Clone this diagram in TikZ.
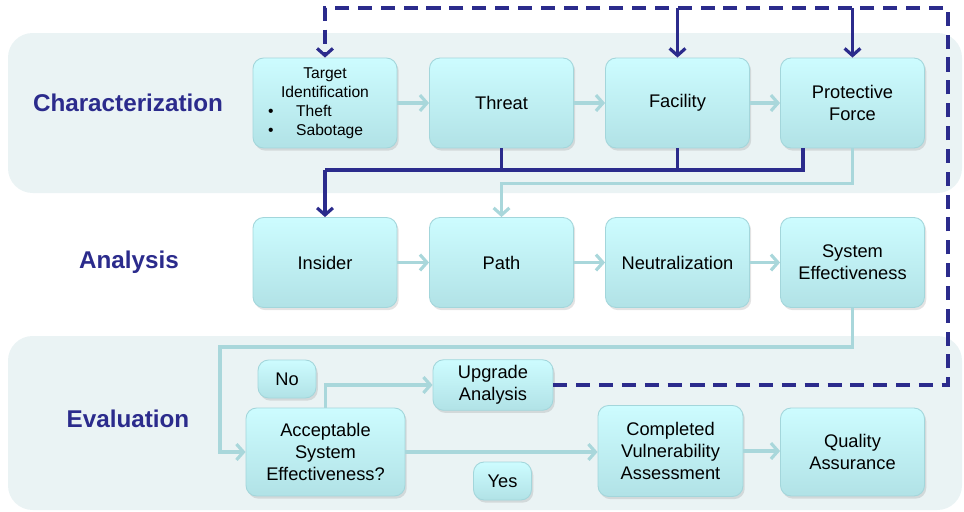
\documentclass[tikz,border=0pt]{standalone}
\usepackage{fontspec}
\setmainfont{Liberation Sans}
\usetikzlibrary{arrows.meta,shadows}

\definecolor{navy}{HTML}{2B2B8C}
\definecolor{pale}{HTML}{A9D7DB}
\definecolor{bandbg}{HTML}{EAF3F4}
\definecolor{boxtop}{HTML}{CDFCFF}
\definecolor{boxbot}{HTML}{B1E2E6}
\definecolor{boxedge}{HTML}{A3D6DB}

\tikzset{
  stage/.style={rectangle,rounded corners=6pt,draw=boxedge,line width=0.5pt,
    top color=boxtop,bottom color=boxbot,minimum width=2.88cm,minimum height=1.8cm,
    align=center,font=\fontsize{10.4}{12.4}\selectfont,
    drop shadow={opacity=0.22,shadow xshift=1pt,shadow yshift=-1.5pt}},
  tag/.style={stage,minimum width=1.16cm,minimum height=0.76cm},
  phase/.style={font=\bfseries\fontsize{13.8}{16}\selectfont,text=navy},
  flow/.style={draw=pale,line width=1.8pt,-{Straight Barb[length=4pt,width=9pt]}},
  feed/.style={draw=navy,line width=1.8pt},
  feedarrow/.style={feed,-{Straight Barb[length=4pt,width=9pt]}},
  loopback/.style={feedarrow,dash pattern=on 8pt off 5pt}
}

\begin{document}
\begin{tikzpicture}[line cap=butt,line join=miter,x=0.02cm,y=-0.02cm]
  \useasboundingbox (0,0) rectangle (964,511);

  % bands
  \fill[bandbg,rounded corners=14pt] (8,33) rectangle (962,193);
  \fill[bandbg,rounded corners=14pt] (8,336) rectangle (962,510);

  \node[phase] (charlbl) at (128,103) {Characterization};
  \node[phase] (analbl) at (129,262) {Analysis};
  \node[phase] (evallbl) at (128,419) {Evaluation};

  % characterization
  \node[stage,font=\fontsize{8.9}{10.9}\selectfont] (tgt) at (325,103)
    {Target\\Identification\\
     \makebox[2.6cm][l]{\hspace{0.16cm}\textbullet\hspace{1.45em}Theft}\\
     \makebox[2.6cm][l]{\hspace{0.16cm}\textbullet\hspace{1.45em}Sabotage}};
  \node[stage] (thr) at (501.5,103) {Threat};
  \node[stage] (fac) at (677.5,103) {Facility};
  \node[stage] (prf) at (852.5,103) {Protective\\Force};

  % analysis
  \node[stage] (ins) at (325,262.5) {Insider};
  \node[stage] (pth) at (501.5,262.5) {Path};
  \node[stage] (neu) at (677.5,262.5) {Neutralization};
  \node[stage] (sye) at (852.5,262.5) {System\\Effectiveness};

  % evaluation
  \node[stage,minimum width=3.18cm,minimum height=1.76cm] (acc) at (325.5,452)
    {Acceptable\\System\\Effectiveness?};
  \node[stage,minimum width=2.4cm,minimum height=0.88cm] (upg) at (493,385)
    {Upgrade\\Analysis};
  \node[stage,minimum width=2.9cm,minimum height=1.82cm] (cva) at (670.5,451)
    {Completed\\Vulnerability\\Assessment};
  \node[stage,minimum height=1.76cm] (qa) at (852.5,452) {Quality\\Assurance};
  \node[tag] (no) at (287,379) {No};
  \node[tag] (yes) at (502.5,481) {Yes};

  \coordinate (mergeL) at (325,170);
  \coordinate (mergeR) at (803,170);
  \coordinate (loopL) at (220,347);
  \coordinate (loopTR) at (948,8);

  \foreach \a/\b in {tgt/thr,thr/fac,fac/prf,ins/pth,pth/neu,neu/sye}
    \draw[flow] (\a.east) -- (\b.west);

  \draw[flow] (prf.south) -- ++(0,35) -| (pth.north);
  \draw[flow] (sye.south) |- (loopL) |- (acc.west);
  \draw[flow] (acc.north) |- (upg.west);
  \draw[flow] (acc.east) -- (acc.east -| cva.west);
  \draw[flow] (cva.east) -- (cva.east -| qa.west);

  \draw[feed] (thr.south) -- (thr.south |- mergeL);
  \draw[feed] (fac.south) -- (fac.south |- mergeL);
  \draw[feed] (prf.south -| mergeR) -- (mergeR) -- (mergeL);
  \draw[feedarrow] (ins.north |- mergeL) -- (ins.north);

  \draw[loopback] (upg.east) -| (loopTR) -| (tgt.north);
  \draw[feedarrow] (fac.north |- loopTR) -- (fac.north);
  \draw[feedarrow] (prf.north |- loopTR) -- (prf.north);
\end{tikzpicture}
\end{document}
